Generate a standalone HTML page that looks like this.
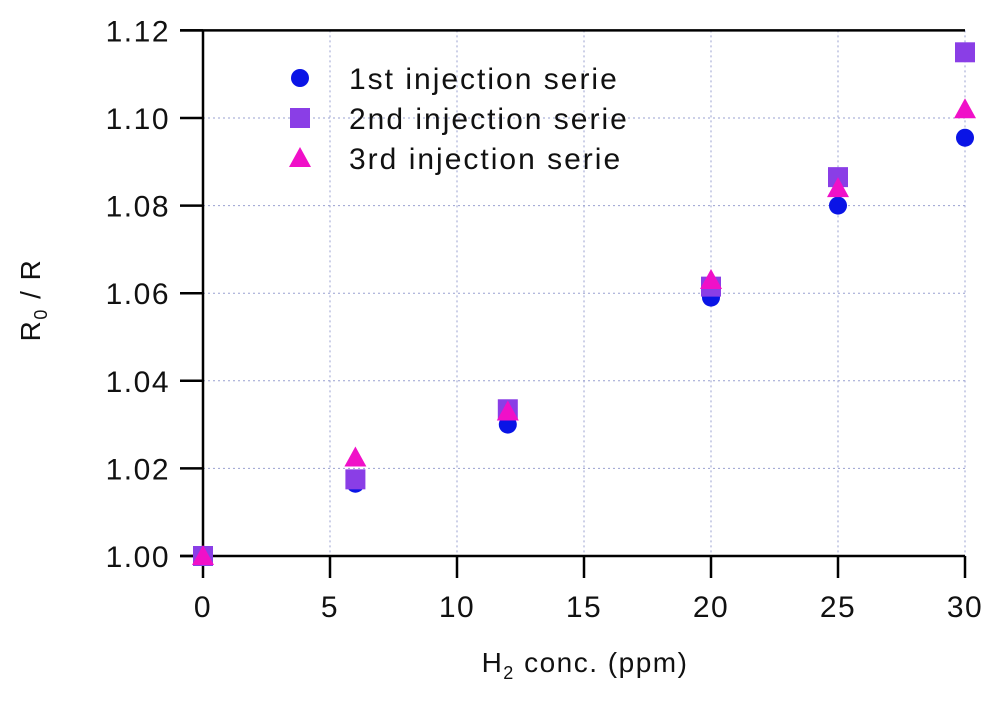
<!DOCTYPE html>
<html><head><meta charset="utf-8"><style>
body{margin:0;background:#fff}
svg text{font-family:"Liberation Sans",sans-serif;fill:#111}
</style></head><body>
<svg width="1000" height="698" id="c">
</svg>
<script>
const xValues=[0,6,12,20,25,30];
const serie1=[1.000,1.0165,1.030,1.059,1.080,1.0955];
const serie2=[1.000,1.0175,1.0335,1.0615,1.0865,1.115];
const serie3=[1.000,1.0225,1.033,1.063,1.084,1.102];
const xTicks=[0,5,10,15,20,25,30];
const yTicks=[1.00,1.02,1.04,1.06,1.08,1.10,1.12];
const NS='http://www.w3.org/2000/svg';
const svg=document.getElementById('c');
const X=v=>203+v*25.4;
const Y=v=>556-(v-1)*4380;
function mk(t,a,p){const e=document.createElementNS(NS,t);for(const k in a)e.setAttribute(k,a[k]);(p||svg).appendChild(e);return e;}
xTicks.forEach(t=>{if(t>0){const g=mk('line',{x1:X(t),x2:X(t),y1:Y(1.12),y2:Y(1),stroke:'#99a0d0',"stroke-dasharray":'2,3'});

}});
yTicks.forEach(t=>{if(t>1){const g=mk('line',{x1:X(0),x2:X(30),y1:Y(t),y2:Y(t),stroke:'#99a0d0',"stroke-dasharray":'2,3'});

}});
let a=mk('line',{x1:X(0),x2:X(0),y1:Y(1.12),y2:Y(1),stroke:'#000','stroke-width':2.5});


a=mk('line',{x1:180,x2:X(30),y1:Y(1),y2:Y(1),stroke:'#000','stroke-width':2.5});


a=mk('line',{x1:180,x2:X(30),y1:Y(1.12),y2:Y(1.12),stroke:'#000','stroke-width':2.5});


yTicks.forEach(t=>{const l=mk('line',{x1:180,x2:X(0),y1:Y(t),y2:Y(t),stroke:'#000','stroke-width':2.5});


const tx=mk('text',{x:170,y:Y(t)+11,'text-anchor':'end','font-size':30,'letter-spacing':1.5});tx.textContent=t.toFixed(2);

});
xTicks.forEach(t=>{const l=mk('line',{x1:X(t),x2:X(t),y1:Y(1),y2:578,stroke:'#000','stroke-width':2.5});


const tx=mk('text',{x:X(t),y:617,'text-anchor':'middle','font-size':30,'letter-spacing':1.5});tx.textContent=t;

});
let t=mk('text',{x:585,y:672,'text-anchor':'middle','font-size':28,'letter-spacing':1.5});
t.innerHTML='H<tspan font-size="18" dy="7">2</tspan><tspan dy="-7"> conc. (ppm)</tspan>';


t=mk('text',{x:0,y:0,'text-anchor':'middle','font-size':28,'letter-spacing':1.5,transform:'translate(40,300) rotate(-90)'});
t.innerHTML='R<tspan font-size="18" dy="7">0</tspan><tspan dy="-7"> / R</tspan>';


function circle(x,y,p){return mk('circle',{cx:x,cy:y,r:9,fill:'#0a14e6'},p);}
function square(x,y,p){return mk('rect',{x:x-10,y:y-10,width:20,height:20,fill:'#8a3ee6'},p);}
function tri(x,y,p){return mk('polygon',{points:`${x},${y-11} ${x+11},${y+9} ${x-11},${y+9}`,fill:'#f010c8'},p);}
const series=[[serie1,circle,'serie1'],[serie2,square,'serie2'],[serie3,tri,'serie3']];
series.forEach(([d,f,n])=>{xValues.forEach((xv,i)=>{const m=f(X(xv),Y(d[i]));

});});
const labels=['1st injection serie','2nd injection serie','3rd injection serie'];
series.forEach(([d,f,n],i)=>{const y=78+i*40;const m=f(300,y);


const tx=mk('text',{x:349,y:y+11,'font-size':30,'letter-spacing':2});tx.textContent=labels[i];

});
</script>
</body></html>
